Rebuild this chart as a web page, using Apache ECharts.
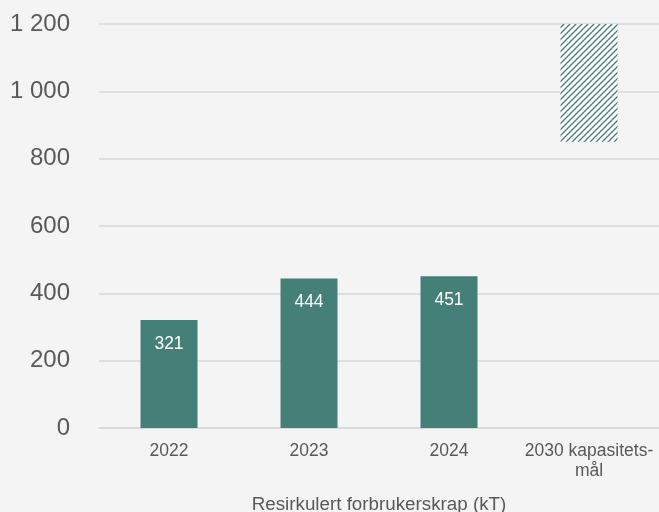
<!DOCTYPE html>
<html>
<head>
<meta charset="utf-8">
<script src="https://cdn.jsdelivr.net/npm/echarts@6/dist/echarts.min.js"></script>
<style>
  html, body { margin: 0; padding: 0; background: #f4f4f4; }
  #chart { width: 659px; height: 512px; }
</style>
</head>
<body>
<div id="chart"></div>
<script>
// Recycled consumer scrap, kilotonnes
const categories = ['2022', '2023', '2024', '2030 kapasitets-\nmål'];
const recycled = [321, 444, 451, null];
const targetLow = 850;    // lower end of the 2030 capacity target
const targetHigh = 1200;  // upper end of the 2030 capacity target
const yTicks = [0, 200, 400, 600, 800, 1000, 1200];

const teal = '#447f78';
const textColor = '#595959';
const gridColor = '#d9d9d9';
const fontFamily = '"Liberation Sans", Arial, sans-serif';

// Diagonal hatch tile for the target range
function hatchTile() {
  const s = 6;
  const c = document.createElement('canvas');
  c.width = s; c.height = s;
  const g = c.getContext('2d');
  g.fillStyle = '#ffffff';
  g.fillRect(0, 0, s, s);
  g.strokeStyle = teal;
  g.lineWidth = 1.3;
  g.beginPath();
  g.moveTo(-1, s + 1); g.lineTo(s + 1, -1);
  g.moveTo(-1, 1); g.lineTo(1, -1);
  g.moveTo(s - 1, s + 1); g.lineTo(s + 1, s - 1);
  g.stroke();
  return c;
}

const baseData = categories.map((_, i) => {
  if (recycled[i] != null) return recycled[i];
  return { value: targetLow, itemStyle: { color: 'transparent' }, label: { show: false } };
});
const rangeData = categories.map((_, i) => recycled[i] != null ? '-' : targetHigh - targetLow);

const chart = echarts.init(document.getElementById('chart'));
chart.setOption({
  backgroundColor: '#f4f4f4',
  animation: false,
  textStyle: { fontFamily },
  grid: { left: 99, right: 0, top: 24, bottom: 84, containLabel: false, outerBoundsMode: 'none' },
  xAxis: {
    type: 'category',
    data: categories,
    axisTick: { show: false },
    axisLine: { lineStyle: { color: gridColor, width: 1.5 } },
    axisLabel: { color: textColor, fontSize: 17.5, fontFamily, margin: 13, lineHeight: 20, interval: 0 },
    name: 'Resirkulert forbrukerskrap (kT)',
    nameLocation: 'middle',
    nameGap: 67,
    nameTextStyle: { color: textColor, fontSize: 18.8, fontFamily }
  },
  yAxis: {
    type: 'value',
    min: yTicks[0],
    max: yTicks[yTicks.length - 1],
    interval: yTicks[1] - yTicks[0],
    axisLine: { show: false },
    axisTick: { show: false },
    splitLine: { lineStyle: { color: gridColor, width: 1.5 } },
    axisLabel: {
      color: textColor,
      fontSize: 24,
      fontFamily,
      margin: 29,
      formatter: v => String(v).replace(/\B(?=(\d{3})+(?!\d))/g, ' ')
    }
  },
  series: [
    {
      type: 'bar',
      stack: 'total',
      barWidth: 57,
      data: baseData,
      itemStyle: { color: teal },
      label: {
        show: true,
        position: 'insideTop',
        distance: 15,
        color: '#ffffff',
        fontSize: 17.5,
        fontFamily
      }
    },
    {
      type: 'bar',
      stack: 'total',
      barWidth: 57,
      data: rangeData,
      itemStyle: { color: { image: hatchTile(), repeat: 'repeat' } }
    }
  ]
});
</script>
</body>
</html>
